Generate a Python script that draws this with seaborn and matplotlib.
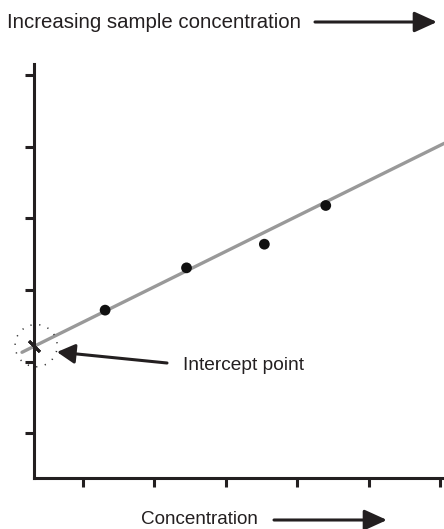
import numpy as np
import pandas as pd
import matplotlib.pyplot as plt
import seaborn as sns
from matplotlib.patches import Ellipse

# data (arbitrary units, ticks at 1..6)
conc = [1.31, 2.45, 3.54, 4.40]
signal = [2.72, 3.31, 3.64, 4.18]
fit_intercept = 2.06
fit_slope = 0.493
line_start, line_end = 0.146, 6.06
x_ticks = [1, 2, 3, 4, 5, 6]
y_ticks = [1, 2, 3, 4, 5, 6]

sns.set_style("ticks")
plt.rcParams['font.family'] = ['Liberation Sans', 'DejaVu Sans']

ink = '#231f20'
fig = plt.figure(figsize=(4.44, 5.29), dpi=100)
ax = fig.add_axes([34 / 444, 51.5 / 529, 410 / 444, 413.5 / 529])

# fitted line, runs a bit past the y axis on the left
fit = pd.DataFrame({'x': [line_start, line_end]})
fit['y'] = fit_intercept + fit_slope * fit['x']
sns.lineplot(data=fit, x='x', y='y', ax=ax, color='#999999', lw=2.4, clip_on=False, zorder=2)

pts = pd.DataFrame({'x': conc, 'y': signal})
sns.scatterplot(data=pts, x='x', y='y', ax=ax, color='#111111', s=60, edgecolor='none', zorder=3)

# intercept mark + dotted circle on the y axis
x0 = 0.314
y0 = fit_intercept + fit_slope * x0
ax.plot([x0], [y0], marker=(2, 2, 45), ms=11, mew=2, color=ink, clip_on=False, zorder=4)
ax.add_patch(Ellipse((x0 + 0.03, y0 + 0.01), 0.59, 0.59, fill=False, ec='#333333', lw=1.1,
                     ls=(0, (0.8, 5)), clip_on=False, zorder=4))

ax.set_xlim(0.314, 6.056)
ax.set_ylim(0.385, 6.154)
ax.set_xticks(x_ticks)
ax.set_yticks(y_ticks)
ax.set_xticklabels([])
ax.set_yticklabels([])
ax.set_xlabel('')
ax.set_ylabel('')
sns.despine(ax=ax)
for side in ['left', 'bottom']:
    ax.spines[side].set_linewidth(2.2)
    ax.spines[side].set_color(ink)
ax.tick_params(direction='out', length=6.5, width=2.2, color=ink)

arrow = dict(arrowstyle='-|>,head_length=0.55,head_width=0.25', lw=2.2, color=ink,
             shrinkA=0, shrinkB=0, mutation_scale=25)

# top label
fig.text(7, 507, 'Increasing sample concentration', transform=None, fontsize=14.7,
         color=ink, va='center', ha='left')
ax.annotate('', xy=(437, 507), xytext=(315, 507), xycoords='figure pixels',
            textcoords='figure pixels', arrowprops=arrow)

# bottom label
fig.text(141.5, 9, 'Concentration', transform=None, fontsize=13.6,
         color=ink, va='center', ha='left')
ax.annotate('', xy=(387, 9), xytext=(274, 9), xycoords='figure pixels',
            textcoords='figure pixels', arrowprops=arrow)

# intercept callout
fig.text(183, 164, 'Intercept point', transform=None, fontsize=13.8,
         color=ink, va='center', ha='left')
ax.annotate('', xy=(57, 177), xytext=(167, 166), xycoords='figure pixels',
            textcoords='figure pixels',
            arrowprops=dict(arrowstyle='-|>,head_length=0.6,head_width=0.33', lw=2.2, color=ink,
                            shrinkA=0, shrinkB=0, mutation_scale=18))

fig.savefig('out.png', dpi=100)
